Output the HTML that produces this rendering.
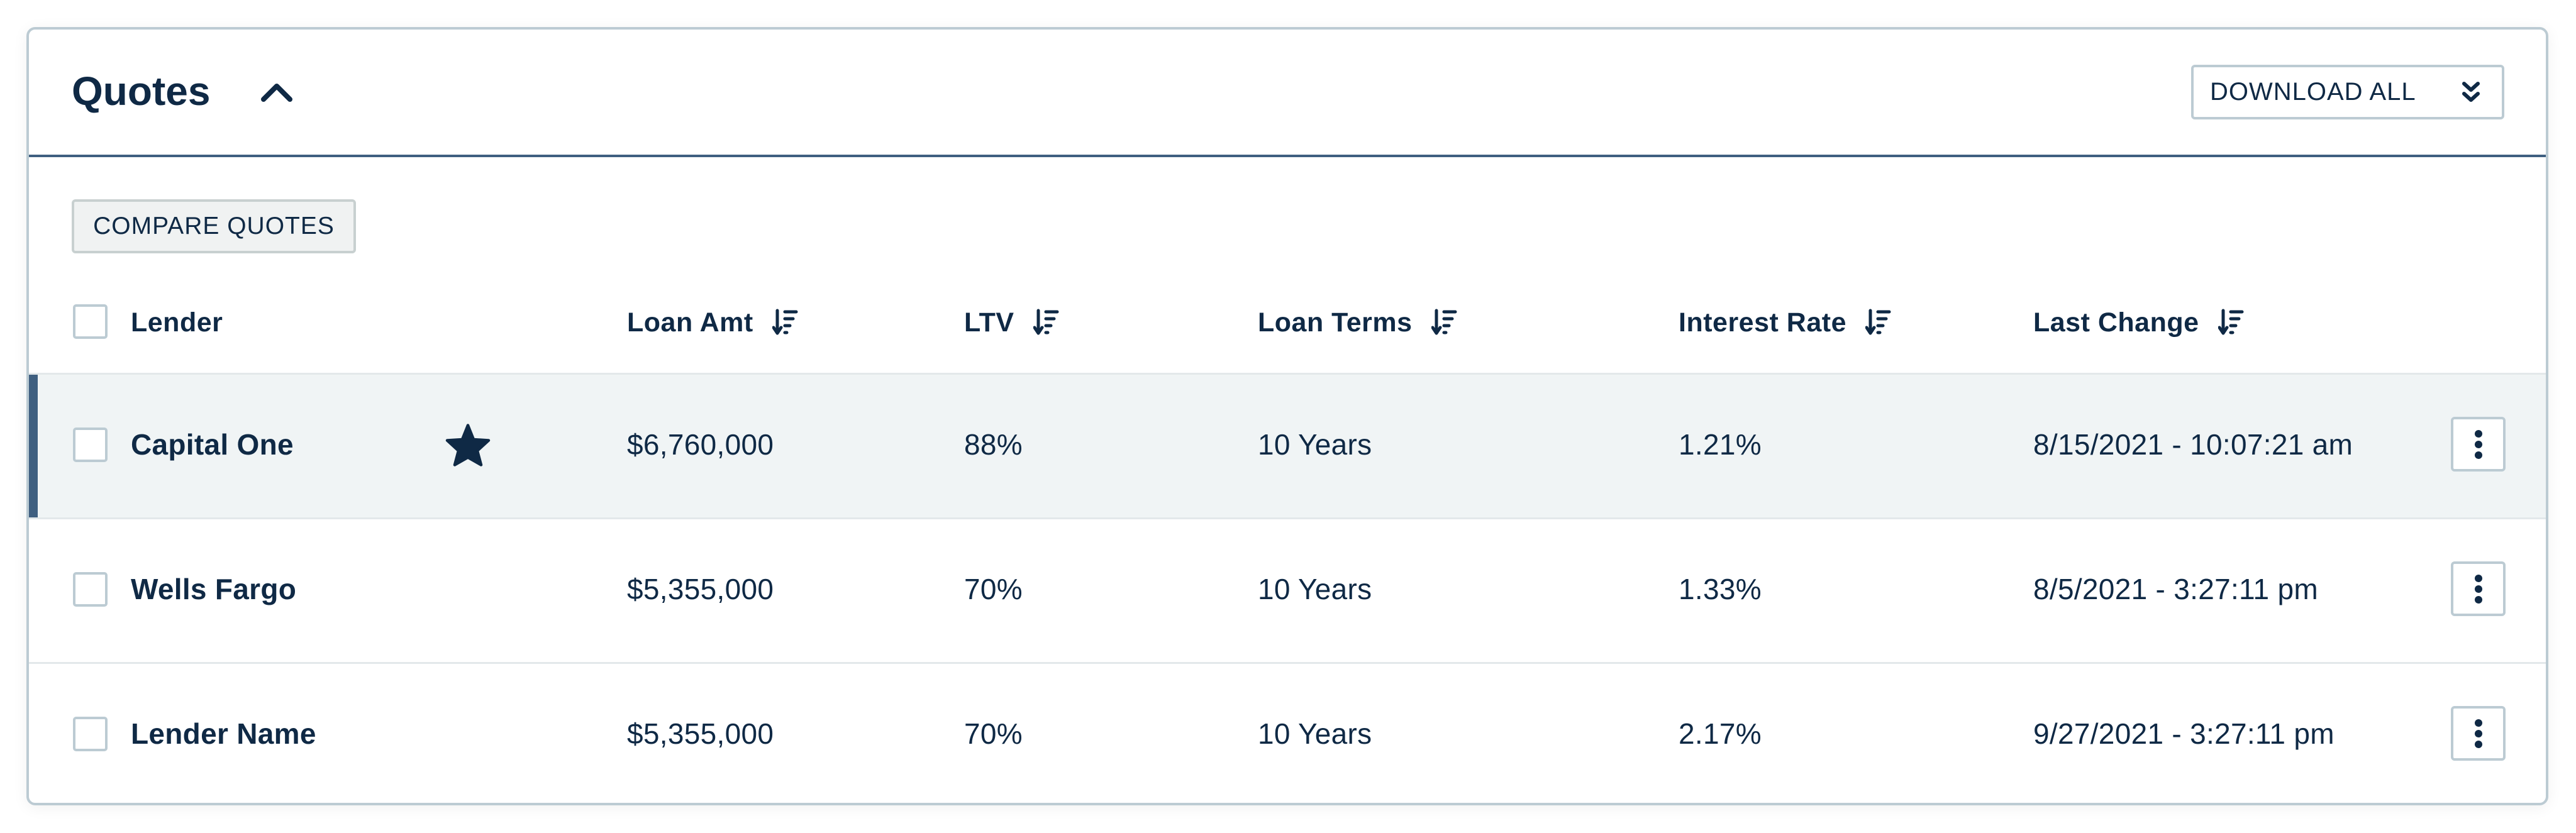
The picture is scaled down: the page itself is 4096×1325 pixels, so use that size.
<!DOCTYPE html>
<html><head><meta charset="utf-8"><style>
*{box-sizing:border-box;margin:0;padding:0}
body{width:4096px;height:1325px;background:#fff;font-family:"Liberation Sans",sans-serif;color:#0f2945;position:relative;overflow:hidden}
.card{position:absolute;left:42px;top:43px;width:4010px;height:1238px;border:4px solid #bccbd3;border-radius:14px;box-shadow:0 4px 24px rgba(0,0,0,0.06);overflow:hidden;background:#fff}
.abs{position:absolute}
.title{left:68px;top:53px;font-size:64px;font-weight:bold;line-height:90px}
.hline{left:0;top:199px;width:100%;height:4px;background:#3f5f80}
.btn{border:4px solid #bccbd3;border-radius:6px;background:#fff;display:flex;align-items:center}
.cmp{left:68px;top:270px;width:452px;height:86px;background:#f0f2f2;border-color:#c8d0d0;font-size:39px;justify-content:center;letter-spacing:1px}
.dl{left:3438px;top:56px;width:498px;height:87px;font-size:40px;padding-left:26px;letter-spacing:1px}
.th{font-size:43px;font-weight:bold;top:438px;line-height:56px;display:flex;align-items:center;gap:30px;letter-spacing:0.5px}
.cb{width:55px;height:55px;border:4px solid #bccbd3;border-radius:5px;background:#fff}
.row{left:0;width:100%;height:230px;border-top:3px solid #e3e8ea}
.cell{font-size:46px;line-height:60px;letter-spacing:0.3px}
.name{font-weight:bold}
.keb{width:87px;height:87px;justify-content:center}
</style></head><body>
<div class="card">
  <div class="abs title">Quotes</div>
  <svg class="abs" style="left:368px;top:84px" width="52" height="32" viewBox="0 0 52 32"><path d="M5 27 L26 6 L47 27" fill="none" stroke="#0f2945" stroke-width="8" stroke-linecap="round" stroke-linejoin="round"/></svg>
  <div class="abs btn dl">DOWNLOAD ALL
    <svg class="abs" style="left:426px;top:22px" width="30" height="38" viewBox="0 0 30 38"><path d="M4 4 L15 14 L26 4 M4 20 L15 30 L26 20" fill="none" stroke="#0f2945" stroke-width="6" stroke-linecap="round" stroke-linejoin="round"/></svg>
  </div>
  <div class="abs hline"></div>
  <div class="abs btn cmp">COMPARE QUOTES</div>

  <div class="abs cb" style="left:70px;top:437px"></div>
  <div class="abs th" style="left:162px">Lender</div>

  <div class="abs row" style="top:546px;background:#f0f4f5"></div>
  <div class="abs" style="left:0;top:549px;width:14px;height:230px;background:#3f5f80"></div>
  <div class="abs row" style="top:776px"></div>
  <div class="abs row" style="top:1006px"></div>
  <svg class="abs" style="left:662px;top:626px" width="72" height="70" viewBox="0 0 24 23"><path d="M12 1 L15 8.5 L23 9 L17 14.5 L19 22 L12 18 L5 22 L7 14.5 L1 9 L9 8.5 Z" fill="#0f2945" stroke="#0f2945" stroke-width="1.5" stroke-linejoin="round"/></svg>
</div>
<script>
const headers=["Loan Amt","LTV","Loan Terms","Interest Rate","Last Change"];
const headerX=[951,1487,1954,2623,3187];
const lenders=["Capital One","Wells Fargo","Lender Name"];
const loanAmt=["$6,760,000","$5,355,000","$5,355,000"];
const ltv=["88%","70%","70%"];
const terms=["10 Years","10 Years","10 Years"];
const rates=["1.21%","1.33%","2.17%"];
const changes=["8/15/2021 - 10:07:21 am","8/5/2021 - 3:27:11 pm","9/27/2021 - 3:27:11 pm"];
const sortSvg='<svg width="42" height="46" viewBox="0 0 42 46"><path d="M8 4 V38 M2 31 L8 40 L14 31" fill="none" stroke="#0f2945" stroke-width="5" stroke-linecap="round" stroke-linejoin="round"/><path d="M20 6 H38 M20 17 H33 M20 28 H28 M20 39 H23" stroke="#0f2945" stroke-width="5" stroke-linecap="round"/></svg>';
const card=document.querySelector('.card');
headers.forEach((h,i)=>{
  const d=document.createElement('div');
  d.className='abs th';
  d.style.left=headerX[i]+'px';
  d.innerHTML='<span>'+h+'</span>'+sortSvg;
  
  
  card.appendChild(d);
});
const cols=[loanAmt,ltv,terms,rates,changes];
lenders.forEach((l,r)=>{
  const cy=660+r*230;
  const cb=document.createElement('div');
  cb.className='abs cb';cb.style.left='70px';cb.style.top=(cy-27)+'px';
  
  
  card.appendChild(cb);
  const n=document.createElement('div');
  n.className='abs cell name';n.style.left='162px';n.style.top=(cy-30)+'px';n.textContent=l;
  
  
  card.appendChild(n);
  cols.forEach((c,i)=>{
    const e=document.createElement('div');
    e.className='abs cell';e.style.left=headerX[i]+'px';e.style.top=(cy-30)+'px';e.textContent=c[r];
    
    
    card.appendChild(e);
  });
  const k=document.createElement('div');
  k.className='abs btn keb';k.style.left='3851px';k.style.top=(cy-44)+'px';
  k.innerHTML='<svg width="16" height="50" viewBox="0 0 16 50"><circle cx="8" cy="8" r="6" fill="#0f2945"/><circle cx="8" cy="25" r="6" fill="#0f2945"/><circle cx="8" cy="42" r="6" fill="#0f2945"/></svg>';
  
  
  card.appendChild(k);
});
</script>
</body></html>
